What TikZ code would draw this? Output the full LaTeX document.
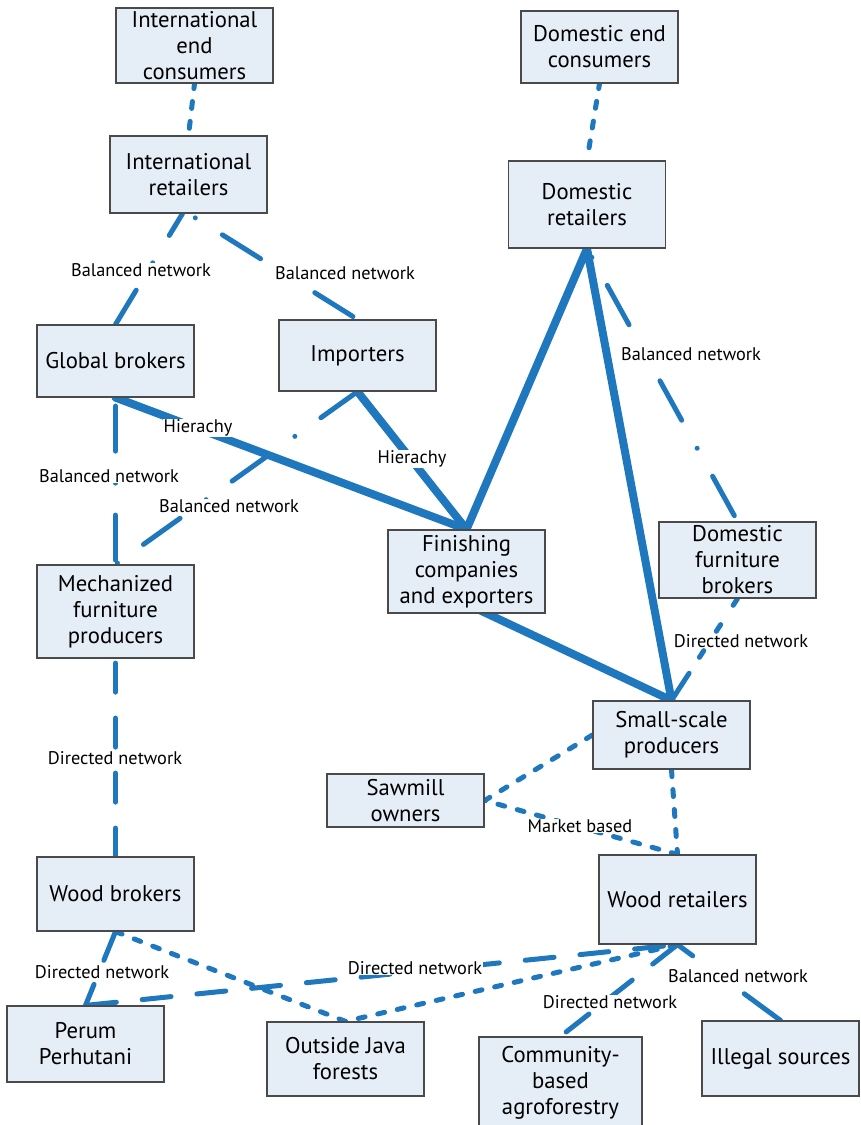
\documentclass[tikz,border=0pt]{standalone}
\usepackage{fontspec}
\setmainfont{PT Sans}
\usetikzlibrary{calc,backgrounds}
\definecolor{lineblue}{HTML}{1F77BD}
\definecolor{boxfill}{HTML}{E5EDF7}
\definecolor{boxline}{HTML}{4A4A4A}
\tikzset{
  box/.style={draw=boxline, line width=1.2pt, fill=boxfill, align=center, inner sep=0pt,
    minimum width=157pt, font=\fontsize{22.7}{26}\selectfont},
  lbl/.style={fill=white, inner sep=0.5pt, font=\fontsize{18.3}{20}\selectfont},
  conn/.style={draw=lineblue, line width=5pt, line cap=round},
  strong/.style={draw=lineblue, line width=8pt, line cap=round, line join=round},
  shortdash/.style={conn, dash pattern=on 7pt off 13pt},
  balnet/.style={conn, dash pattern=on 45pt off 32pt on 0pt off 32pt},
  dirnet/.style={conn, dash pattern=on 29pt off 26pt},
}
\begin{document}
\begin{tikzpicture}[x=1pt,y=-1pt]
\useasboundingbox (0,0) rectangle (861,1125);
% boxes
\node[box, minimum height=75pt] (iec) at (194.5,45.5) {International\\end\\consumers};
\node[box, minimum height=77pt] (ir) at (188.5,174.5) {International\\retailers};
\node[box, minimum height=72pt] (dec) at (599.5,47) {Domestic end\\consumers};
\node[box, minimum height=87pt] (dr) at (587,204.5) {Domestic\\retailers};
\node[box, minimum height=72pt] (gb) at (115.5,361) {Global brokers};
\node[box, minimum height=71pt] (imp) at (357.5,355.5) {Importers};
\node[box, minimum height=83pt] (fin) at (466.5,571.5) {Finishing\\companies\\and exporters};
\node[box, minimum height=76pt] (dfb) at (737.5,560) {Domestic\\furniture\\brokers};
\node[box, minimum height=93pt] (mfp) at (115.5,611.5) {Mechanized\\furniture\\producers};
\node[box, minimum height=68pt] (ssp) at (671.5,735) {Small-scale\\producers};
\node[box, minimum height=53pt] (saw) at (405.5,800.5) {Sawmill\\owners};
\node[box, minimum height=74pt] (wb) at (115.5,894) {Wood brokers};
\node[box, minimum height=89pt] (wr) at (677.5,899.5) {Wood retailers};
\node[box, minimum height=76pt] (pp) at (85.5,1044) {Perum\\Perhutani};
\node[box, minimum height=74pt] (ojf) at (345.5,1059) {Outside Java\\forests};
\node[box, minimum height=92pt, minimum width=163pt] (cba) at (560.5,1083) {Community-\\based\\agroforestry};
\node[box, minimum height=75pt] (ils) at (780.5,1058.5) {Illegal sources};
% connectors behind boxes
\begin{scope}[on background layer]
\path[shortdash, dash phase=2pt] (iec.south) -- (ir.north);
\path[shortdash, dash phase=2pt] (dec.south) -- (dr.north);
\path[balnet, dash phase=19.5pt] ([xshift=-6pt]ir.south) -- (gb.north);
\path[balnet, dash phase=69pt] (ir.south) -- (imp.north);
\path[balnet, dash phase=100.5pt] (gb.south) -- (mfp.north);
\path[balnet] (imp.south) -- (mfp.north);
\path[strong] (gb.south) -- (fin.north);
\path[strong] (imp.south) -- (fin.north) -- (dr.south) -- (ssp.north);
\path[strong] ([xshift=12pt,yshift=4pt]fin.south) -- (ssp.north);
\path[balnet, dash phase=67pt] (dr.south) -- (dfb.north);
\path[conn, dash pattern=on 8pt off 23pt on 8pt off 23pt on 8pt off 19pt on 28pt off 20pt] (dfb.south) -- (ssp.north);
\path[shortdash] (ssp.west) -- (saw.east) -- (wr.north);
\path[shortdash] (ssp.south) -- (wr.north);
\path[dirnet, dash phase=50.5pt] (mfp.south) -- (wb.north);
\path[dirnet, dash phase=53pt] (wb.south) -- (pp.north);
\path[dirnet, dash phase=53pt] (pp.north) -- (wr.south);
\path[shortdash] (wb.south) -- (ojf.north) -- (wr.south);
\path[dirnet, dash phase=47.8pt] (cba.north) -- (wr.south);
\path[balnet] (ils.north) -- (wr.south);
\end{scope}
% labels
\node[lbl] (l1) at (141,270) {Balanced network};
\node[lbl] (l2) at (345,273) {Balanced network};
\node[lbl] (l3) at (198,428) {Hierachy};
\node[lbl] (l4) at (412,459) {Hierachy};
\node[lbl] (l5) at (109,476) {Balanced network};
\node[lbl] (l6) at (229,506) {Balanced network};
\node[lbl] (l7) at (691,354) {Balanced network};
\node[lbl] (l8) at (741,641) {Directed network};
\node[lbl] (l9) at (115,758) {Directed network};
\node[lbl] (l10) at (580,826) {Market based};
\node[lbl] (l11) at (102,972) {Directed network};
\node[lbl] (l12) at (415,968) {Directed network};
\node[lbl] (l13) at (610,1002) {Directed network};
\node[lbl] (l14) at (738,976) {Balanced network};
\end{tikzpicture}
\end{document}
